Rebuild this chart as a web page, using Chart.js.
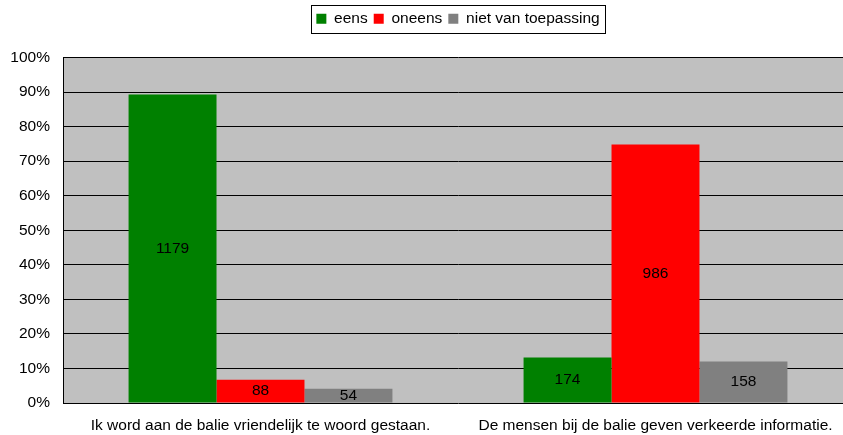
<!DOCTYPE html>
<html lang="nl">
<head>
  <meta charset="UTF-8" />
  <title>Balie enquête</title>
  <script src="https://cdn.jsdelivr.net/npm/chart.js"></script>
  <style>
    html, body { margin: 0; padding: 0; background: #fff; overflow: hidden; }
    /* plot area runs a little past the right edge, as in the original */
    #wrap { width: 843px; height: 435px; overflow: hidden; }
  </style>
</head>
<body>
  <div id="wrap"><canvas id="chart" width="853" height="435"></canvas></div>

  <script>
    // data
    const categories = [
      'Ik word aan de balie vriendelijk te woord gestaan.',
      'De mensen bij de balie geven verkeerde informatie.'
    ];
    const seriesNames = ['eens', 'oneens', 'niet van toepassing'];
    const seriesColors = ['#008000', '#FF0000', '#808080'];
    // percentages per series
    const eensPct = [89.3, 13.2];
    const oneensPct = [6.7, 74.8];
    const nvtPct = [4.1, 12.0];
    // counts shown in the bars
    const eensCount = [1179, 174];
    const oneensCount = [88, 986];
    const nvtCount = [54, 158];
    const yTicks = [0, 10, 20, 30, 40, 50, 60, 70, 80, 90, 100];

    const font = { family: 'Liberation Sans, Arial, sans-serif', size: 15.5 };

    const plotBg = {
      id: 'plotBg',
      beforeDraw(chart) {
        const { ctx, chartArea: a } = chart;
        ctx.save();
        ctx.fillStyle = '#C0C0C0';
        ctx.fillRect(a.left, a.top, a.right - a.left, a.bottom - a.top);
        ctx.restore();
      }
    };

    // extra room under the legend, and centre it over the plot area
    const legendFix = {
      id: 'legendFix',
      beforeInit(chart) {
        const fit = chart.legend.fit;
        chart.legend.fit = function () {
          fit.call(this);
          this.height += 21;
        };
      },
      afterUpdate(chart) {
        const l = chart.legend, a = chart.chartArea;
        const d = (a.left + a.right - l.left - l.right) / 2;
        l.left += d;
        l.right += d;
        // adjustHitBoxes adds to top, so keep the current tops
        const tops = l.legendHitBoxes.map(h => h.top);
        l.adjustHitBoxes();
        l.legendHitBoxes.forEach((h, i) => { h.top = tops[i]; });
      }
    };

    const legendBox = {
      id: 'legendBox',
      afterDraw(chart) {
        const ctx = chart.ctx;
        const hits = chart.legend.legendHitBoxes;
        if (!hits.length) return;
        const last = hits[hits.length - 1];
        const x0 = hits[0].left - 5;
        const x1 = last.left + last.width + 6;
        const y0 = hits[0].top - 6;
        const y1 = hits[0].top + hits[0].height + 6;
        ctx.save();
        ctx.strokeStyle = '#000';
        ctx.lineWidth = 1;
        ctx.strokeRect(Math.round(x0) + 0.5, Math.round(y0) + 0.5, Math.round(x1 - x0), Math.round(y1 - y0));
        ctx.restore();
      }
    };

    const barLabels = {
      id: 'barLabels',
      afterDatasetsDraw(chart) {
        const ctx = chart.ctx;
        ctx.save();
        ctx.font = font.size + 'px ' + font.family;
        ctx.fillStyle = '#000';
        ctx.textAlign = 'center';
        ctx.textBaseline = 'middle';
        chart.data.datasets.forEach((ds, i) => {
          chart.getDatasetMeta(i).data.forEach((bar, j) => {
            const y = (bar.y + bar.base) / 2;
            ctx.fillText(String(ds.counts[j]), bar.x, y);
          });
        });
        ctx.restore();
      }
    };

    const pcts = [eensPct, oneensPct, nvtPct];
    const counts = [eensCount, oneensCount, nvtCount];

    new Chart(document.getElementById('chart'), {
      type: 'bar',
      data: {
        labels: categories,
        datasets: seriesNames.map((name, i) => ({
          label: name,
          data: pcts[i],
          counts: counts[i],
          backgroundColor: seriesColors[i],
          borderWidth: 0,
          categoryPercentage: 0.668,
          barPercentage: 1.0
        }))
      },
      options: {
        responsive: false,
        animation: false,
        layout: { padding: { left: 0, right: 0, top: 5, bottom: 0 } },
        plugins: {
          legend: {
            position: 'top',
            labels: {
              color: '#000',
              font: font,
              boxWidth: 10,
              boxHeight: 10,
              padding: 6
            }
          },
          tooltip: { enabled: false }
        },
        scales: {
          x: {
            afterFit(scale) { scale.height = 32; },
            grid: { display: false, drawTicks: false },
            border: { display: false },
            ticks: { color: '#000', font: font, maxRotation: 0, padding: 13 }
          },
          y: {
            min: 0,
            max: 100,
            afterFit(scale) { scale.width = 63; },
            afterBuildTicks(scale) { scale.ticks = yTicks.map(v => ({ value: v })); },
            grid: { color: '#000', lineWidth: 1, drawTicks: false },
            border: { display: true, color: '#000', width: 1 },
            ticks: {
              color: '#000',
              font: font,
              padding: 13,
              callback: v => v + '%'
            }
          }
        }
      },
      plugins: [legendFix, plotBg, legendBox, barLabels]
    });
  </script>
</body>
</html>
